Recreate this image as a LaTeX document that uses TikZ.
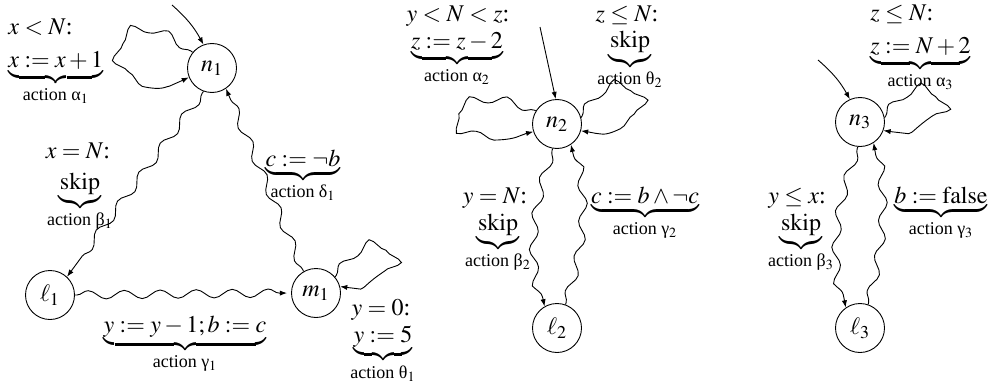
\documentclass[tikz,border=0pt]{standalone}
\usepackage{amsmath}
\usepackage{mathptmx}
\usepackage{fontspec}
\setmainfont{Liberation Serif}
\usetikzlibrary{arrows.meta,decorations.pathmorphing}
\newcommand\actlbl[2]{\mbox{\fontsize{9}{10}\selectfont action #1$_{#2}$}}
\begin{document}
\begin{tikzpicture}[x=0.5pt,y=-0.5pt,line width=0.45pt,
  state/.style={circle,draw,minimum size=24.5pt,inner sep=0pt,font=\fontsize{12}{14}\selectfont},
  lbl/.style={inner sep=0pt,font=\fontsize{12}{14}\selectfont},
  wave/.style={decorate,decoration={snake,segment length=18pt,amplitude=2.1pt,pre length=1pt,post length=4pt}},
  arr/.style={-{Latex[length=3.6pt,width=2.6pt]}}]
\useasboundingbox (0,0) rectangle (988,385);
% ---------- graph 1
\node[state] (n1) at (212,68) {$n_1$};
\node[state] (l1) at (50,295) {$\ell_1$};
\node[state] (m1) at (316,293) {$m_1$};
\coordinate (i1) at (172,5);
\draw[arr] (i1) to[bend left=10] (n1.110);
\draw[arr,wave] (n1.141) .. controls +(142.4:54.9pt) and +(207:51.7pt) .. (n1.202);
\draw[arr,wave] (n1.250) -- (l1.47);
\draw[arr,wave] (m1.120) -- (n1.304);
\draw[arr,wave,shorten >=2pt] (l1.0) -- (m1.180);
\draw[arr,wave] (m1.40) .. controls +(55.6:42.4pt) and +(-9:44.6pt) .. (m1.15);
\node[lbl,anchor=base west] (g1a) at (8,35) {$x<N$:};
\node[lbl,anchor=base west] (a1a) at (8,68) {$\underbrace{x:=x+1}_{\actlbl{α}{1}}$};
\node[lbl,anchor=base] (g1b) at (78,158) {$x=N$:};
\node[lbl,anchor=base] (a1b) at (80,189) {$\underbrace{\mathrm{skip}}_{\actlbl{β}{1}}$};
\node[lbl,anchor=base] (a1d) at (303,166) {$\underbrace{c:=\neg b}_{\actlbl{δ}{1}}$};
\node[lbl,anchor=base] (a1g) at (185,332) {$\underbrace{y:=y-1;b:=c}_{\actlbl{γ}{1}}$};
\node[lbl,anchor=base] (g1t) at (381,315) {$y=0$:};
\node[lbl,anchor=base] (a1t) at (383,342) {$\underbrace{y:=5}_{\actlbl{θ}{1}}$};
% ---------- graph 2
\node[state] (n2) at (557,124) {$n_2$};
\node[state] (l2) at (557,328) {$\ell_2$};
\coordinate (i2) at (540,27);
\draw[arr] (i2) -- (n2.93);
\draw[arr,wave] (n2.148) .. controls +(158.7:48pt) and +(195:52pt) .. (n2.198);
\draw[arr,wave] (n2.15) .. controls +(59.5:42.4pt) and +(-9.7:53pt) .. (n2.-16);
\draw[arr,wave] (n2.260) to[bend right=15] (l2.120);
\draw[arr,wave] (l2.70) to[bend right=15] (n2.-56);
\node[lbl,anchor=base] (g2a) at (458,22) {$y<N<z$:};
\node[lbl,anchor=base] (a2a) at (457,49) {$\underbrace{z:=z-2}_{\actlbl{α}{2}}$};
\node[lbl,anchor=base] (g2t) at (627,22) {$z\leq N$:};
\node[lbl,anchor=base] (a2t) at (630,48) {$\underbrace{\mathrm{skip}}_{\actlbl{θ}{2}}$};
\node[lbl,anchor=base] (g2b) at (495,203) {$y=N$:};
\node[lbl,anchor=base] (a2b) at (498,230) {$\underbrace{\mathrm{skip}}_{\actlbl{β}{2}}$};
\node[lbl,anchor=base] (a2g) at (645,203) {$\underbrace{c:=b\wedge\neg c}_{\actlbl{γ}{2}}$};
% ---------- graph 3
\node[state] (n3) at (860,122) {$n_3$};
\node[state] (l3) at (860,328) {$\ell_3$};
\coordinate (i3) at (818,60);
\draw[arr] (i3) to[bend left=10] (n3.114);
\draw[arr,wave] (n3.10) .. controls +(57:38pt) and +(-9.7:52pt) .. (n3.-20);
\draw[arr,wave] (n3.265) to[bend right=15] (l3.125);
\draw[arr,wave] (l3.71) to[bend right=12] (n3.-57);
\node[lbl,anchor=base west] (g3a) at (870,21) {$z\leq N$:};
\node[lbl,anchor=base west] (a3a) at (870,54) {$\underbrace{z:=N+2}_{\actlbl{α}{3}}$};
\node[lbl,anchor=base] (g3b) at (797,203) {$y\leq x$:};
\node[lbl,anchor=base] (a3b) at (801,230) {$\underbrace{\mathrm{skip}}_{\actlbl{β}{3}}$};
\node[lbl,anchor=base] (a3g) at (941,203) {$\underbrace{b:=\mathrm{false}}_{\actlbl{γ}{3}}$};
\end{tikzpicture}
\end{document}
